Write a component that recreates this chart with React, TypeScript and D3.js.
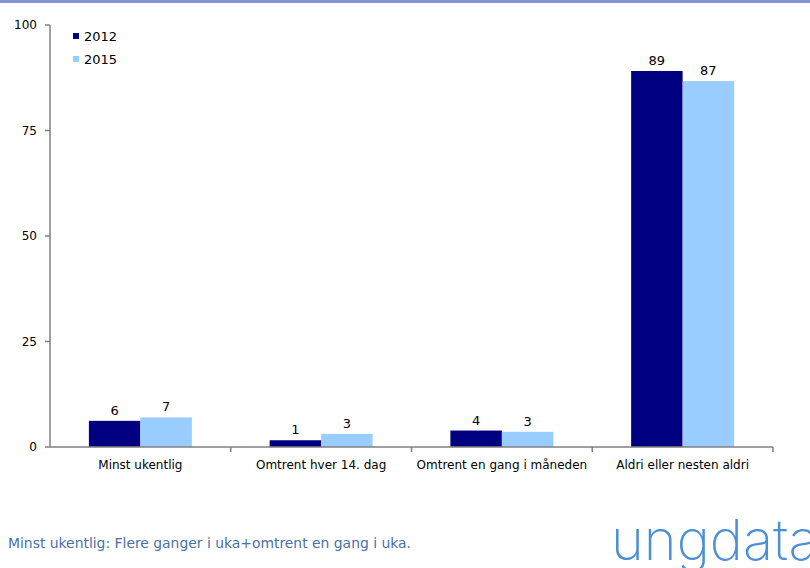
import React from "react";
import * as d3 from "d3";

const categories = ["Minst ukentlig", "Omtrent hver 14. dag", "Omtrent en gang i måneden", "Aldri eller nesten aldri"];
const seriesNames = ["2012", "2015"];
const values2012 = [6.2, 1.6, 3.9, 89.1];
const values2015 = [7.0, 3.1, 3.6, 86.7];
const labels2012 = ["6", "1", "4", "89"];
const labels2015 = ["7", "3", "3", "87"];
const yTicks = [0, 25, 50, 75, 100];
const colors = ["#000080", "#99ccff"];
const footnote = "Minst ukentlig: Flere ganger i uka+omtrent en gang i uka.";
const logoText = "ungdata";

const W = 810, H = 568;
const left = 50, right = 773, top = 25, bottom = 447;
const font = "'DejaVu Sans', Verdana, sans-serif";

export default function App() {
  const x = d3.scaleBand<string>().domain(categories).range([left, right]).paddingInner(0).paddingOuter(0);
  const inner = d3.scaleBand<string>().domain(seriesNames).range([0, x.bandwidth()]).paddingOuter(0.755).paddingInner(0);
  const y = d3.scaleLinear().domain([0, 100]).range([bottom, top]);
  const series = [values2012, values2015];
  const labels = [labels2012, labels2015];
  const boundaries = categories.map((c) => (x(c) as number) + x.bandwidth());

  return (
    <svg width={W} height={H} style={{ position: "absolute", left: 0, top: 0, background: "#fff" }} fontFamily={font}>
      <rect x={0} y={0} width={W} height={3} fill="#8296d8" />
      {/* y axis */}
      <line x1={left} x2={left} y1={top} y2={bottom} stroke="#808080" strokeWidth={1.5} />
      {yTicks.map((t) => (
        <g key={t}>
          <line x1={left - 5} x2={left} y1={y(t)} y2={y(t)} stroke="#808080" strokeWidth={1.5} />
          <text x={37} y={y(t)} dy="0.35em" textAnchor="end" fontSize={12} fill="#000">{t}</text>
        </g>
      ))}
      {/* bars */}
      {series.map((vals, si) =>
        vals.map((v, i) => {
          const bx = (x(categories[i]) as number) + (inner(seriesNames[si]) as number);
          return (
            <g key={`${si}-${i}`}>
              <rect x={bx} y={y(v)} width={inner.bandwidth()} height={bottom - y(v)} fill={colors[si]} />
              <text x={bx + inner.bandwidth() / 2} y={y(v) - 6} textAnchor="middle" fontSize={13} fill="#000">{labels[si][i]}</text>
            </g>
          );
        })
      )}
      {/* x axis */}
      <line x1={left} x2={right} y1={bottom} y2={bottom} stroke="#808080" strokeWidth={1.5} />
      {boundaries.map((b, i) => (
        <line key={i} x1={b} x2={b} y1={bottom} y2={bottom + 5} stroke="#808080" strokeWidth={1.5} />
      ))}
      {categories.map((c) => (
        <text key={c} x={(x(c) as number) + x.bandwidth() / 2} y={469} textAnchor="middle" fontSize={12} fill="#000">{c}</text>
      ))}
      {/* legend */}
      {seriesNames.map((s, i) => (
        <g key={s}>
          <rect x={73} y={33 + i * 23} width={6} height={6} fill={colors[i]} />
          <text x={84} y={41 + i * 23} fontSize={13} fill="#000">{s}</text>
        </g>
      ))}
      <text x={8} y={548} fontSize={13.9} fill="#4a70a8">{footnote}</text>
      <text x={611} y={560} fontSize={56} fontFamily="Inter, 'Noto Sans', sans-serif" fontWeight={200} fill="#4b8fd4">{logoText}</text>
    </svg>
  );
}
